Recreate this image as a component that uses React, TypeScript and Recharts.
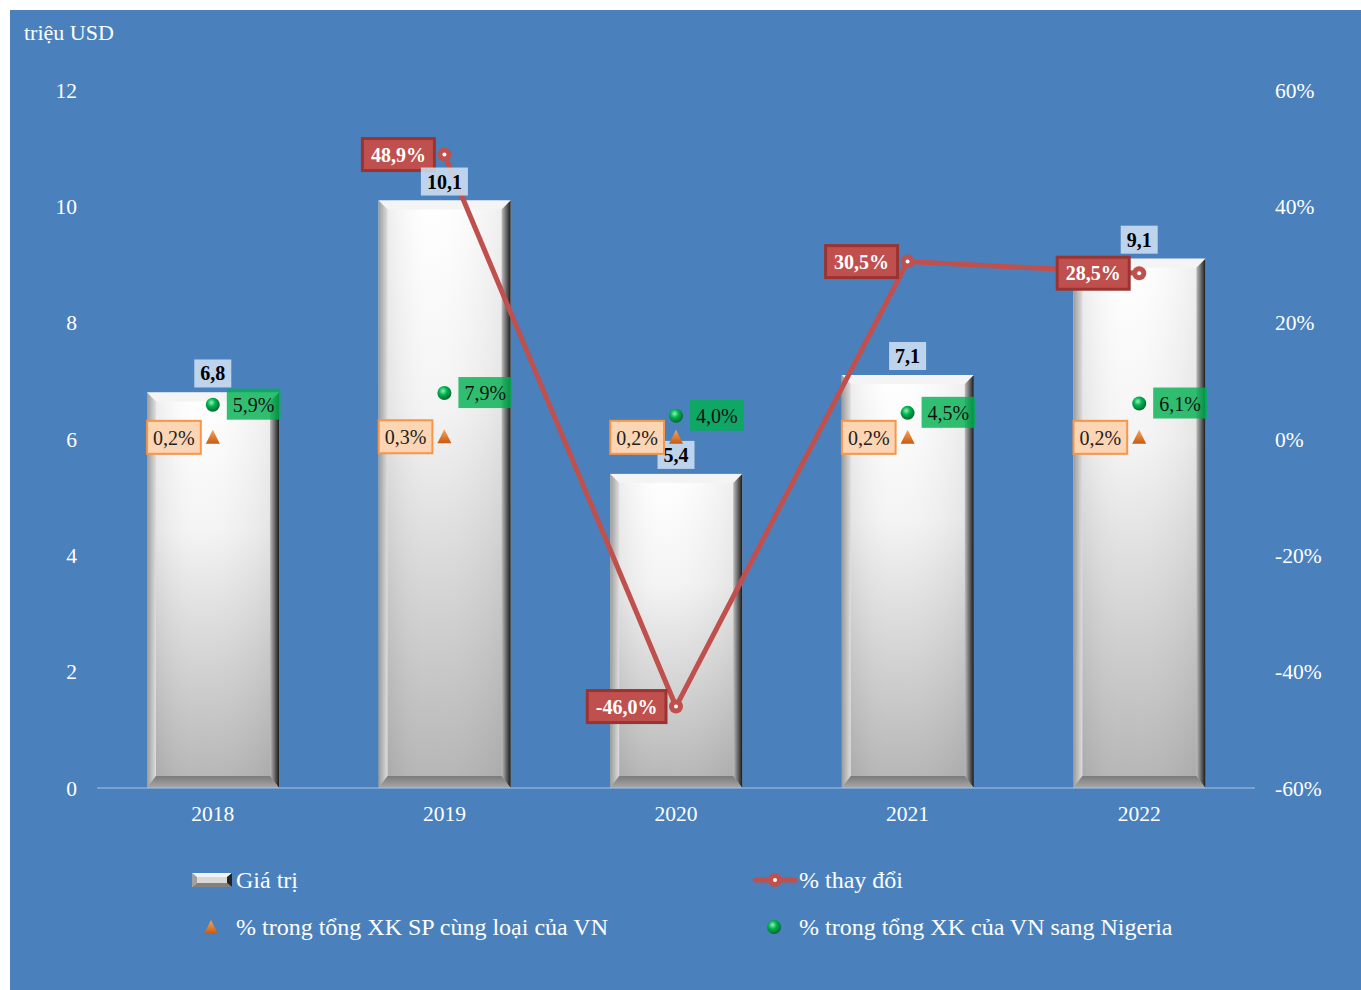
import React from "react";
import { ComposedChart, Bar, Line, Scatter, XAxis, YAxis } from "recharts";

const years = ["2018", "2019", "2020", "2021", "2022"];
const values = [6.8, 10.1, 5.4, 7.1, 9.1];
const change = [null, 48.9, -46.0, 30.5, 28.5];
const shareSameProduct = [0.2, 0.3, 0.2, 0.2, 0.2];
const shareNigeria = [5.9, 7.9, 4.0, 4.5, 6.1];

const leftTicks = [0, 2, 4, 6, 8, 10, 12];
const rightTicks = [-60, -40, -20, 0, 20, 40, 60];

const data = years.map((year, i) => ({
  year,
  value: values[i],
  change: change[i],
  same: shareSameProduct[i],
  nigeria: shareNigeria[i],
}));

const BG = "#4a81bd";
const FONT = "'Liberation Serif', 'Times New Roman', serif";
const RED = "#c0504d";

const fmt = (v: number) => v.toFixed(1).replace(".", ",");

// rough width of Times text at 20px
const textW = (s: string, bold = false) => {
  let w = 0;
  for (const c of s) {
    if (c === ",") w += 5;
    else if (c === "%") w += bold ? 20 : 16.7;
    else if (c === "-") w += 6.7;
    else w += 10;
  }
  return w;
};

const BevelBar = (props: any) => {
  const { x, y, width: w, height: h } = props;
  const bt = 9;
  const bb = 12;
  return (
    <g>
      <rect x={x} y={y} width={w} height={h} fill="url(#faceGrad)" />
      <rect x={x} y={y} width={w} height={h} fill="url(#faceGradH)" />
      <polygon points={`${x},${y} ${x + w},${y} ${x + w - bt},${y + bt} ${x + bt},${y + bt}`} fill="#f4f4f4" />
      <polygon points={`${x},${y} ${x + bt},${y + bt} ${x + bt},${y + h - bb} ${x},${y + h}`} fill="url(#leftGrad)" />
      <polygon points={`${x + w},${y} ${x + w},${y + h} ${x + w - bt},${y + h - bb} ${x + w - bt},${y + bt}`} fill="url(#rightGrad)" />
      <polygon points={`${x},${y + h} ${x + bt},${y + h - bb} ${x + w - bt},${y + h - bb} ${x + w},${y + h}`} fill="url(#bottomGrad)" />
    </g>
  );
};

// value label sitting on top of each bar, drawn above the line
const BarValueLabel = (props: any) => {
  const { cx, cy, payload } = props;
  const label = fmt(payload.value);
  const lw = textW(label, true) + 12;
  return (
    <g>
      <rect x={cx - lw / 2} y={cy - 33} width={lw} height={28} fill="#d2e2f4" fillOpacity={0.85} />
      <text x={cx} y={cy - 12} textAnchor="middle" fontFamily={FONT} fontSize={20} fontWeight="bold" fill="#000">
        {label}
      </text>
    </g>
  );
};

const ChangeDot = (props: any) => {
  const { cx, cy, payload, index } = props;
  if (cy == null || payload.change == null) return <g key={`cd-${index}`} />;
  const label = fmt(payload.change) + "%";
  const bw = textW(label, true) + 17;
  const right = cx - 10;
  return (
    <g key={`cd-${index}`}>
      <rect x={right - bw} y={cy - 16} width={bw} height={32} fill={RED} stroke="#9a3431" strokeWidth={3} />
      <text x={right - bw / 2} y={cy + 7} textAnchor="middle" fontFamily={FONT} fontSize={20} fontWeight="bold" fill="#fff">
        {label}
      </text>
      <circle cx={cx} cy={cy} r={7} fill={RED} />
      <circle cx={cx} cy={cy} r={2} fill="#fff" />
    </g>
  );
};

const TriangleMark = (props: any) => {
  const { cx, cy, payload } = props;
  const label = fmt(payload.same) + "%";
  const bw = textW(label) + 12;
  const right = cx - 12;
  return (
    <g>
      <rect x={right - bw} y={cy - 17} width={bw} height={33} fill="#fcd5b4" stroke="#f79646" strokeWidth={2} />
      <text x={right - bw / 2} y={cy + 7} textAnchor="middle" fontFamily={FONT} fontSize={20} fill="#222">
        {label}
      </text>
      <polygon points={`${cx},${cy - 8} ${cx - 7},${cy + 6} ${cx + 7},${cy + 6}`} fill="url(#triGrad)" />
    </g>
  );
};

const GreenMark = (props: any) => {
  const { cx, cy, payload } = props;
  const label = fmt(payload.nigeria) + "%";
  const bw = textW(label) + 12;
  const left = cx + 14;
  return (
    <g>
      <rect x={left} y={cy - 16} width={bw} height={31} fill="#00b050" fillOpacity={0.8} />
      <text x={left + bw / 2} y={cy + 7} textAnchor="middle" fontFamily={FONT} fontSize={20} fill="#111">
        {label}
      </text>
      <circle cx={cx} cy={cy} r={7} fill="url(#greenGrad)" />
    </g>
  );
};

const legendText: React.CSSProperties = {
  position: "absolute",
  color: "#fff",
  fontFamily: FONT,
  fontSize: 24,
  lineHeight: "24px",
  whiteSpace: "nowrap",
  transform: "translateY(-50%)",
};

export default function App() {
  return (
    <div style={{ paddingTop: 10, paddingLeft: 10 }}>
      <style>{`body{margin:0;overflow:hidden}`}</style>
      <div style={{ position: "relative", width: 1351, height: 980, background: BG }}>
        <div style={{ ...legendText, left: 14, top: 23, fontSize: 22 }}>triệu USD</div>
        <ComposedChart
          width={1351}
          height={980}
          data={data}
          margin={{ top: 80, right: 0, bottom: 162, left: 0 }}
        >
          <defs>
            <linearGradient id="faceGrad" x1="0" y1="0" x2="0" y2="1">
              <stop offset="0%" stopColor="#ffffff" />
              <stop offset="35%" stopColor="#f4f4f4" />
              <stop offset="100%" stopColor="#b4b4b4" />
            </linearGradient>
            <linearGradient id="faceGradH" x1="0" y1="0" x2="1" y2="0">
              <stop offset="0%" stopColor="#000" stopOpacity={0.1} />
              <stop offset="40%" stopColor="#fff" stopOpacity={0} />
              <stop offset="100%" stopColor="#000" stopOpacity={0.08} />
            </linearGradient>
            <linearGradient id="leftGrad" x1="0" y1="0" x2="1" y2="0">
              <stop offset="0%" stopColor="#9c9c9c" />
              <stop offset="100%" stopColor="#dedede" />
            </linearGradient>
            <linearGradient id="rightGrad" x1="0" y1="0" x2="1" y2="0">
              <stop offset="0%" stopColor="#bdbdbd" />
              <stop offset="100%" stopColor="#1a1a1a" />
            </linearGradient>
            <linearGradient id="bottomGrad" x1="0" y1="0" x2="0" y2="1">
              <stop offset="0%" stopColor="#7a7a7a" />
              <stop offset="100%" stopColor="#a8a8a8" />
            </linearGradient>
            <linearGradient id="triGrad" x1="0" y1="0" x2="0" y2="1">
              <stop offset="0%" stopColor="#f9a55a" />
              <stop offset="100%" stopColor="#c55a11" />
            </linearGradient>
            <radialGradient id="greenGrad" cx="0.4" cy="0.35" r="0.65">
              <stop offset="0%" stopColor="#8ff5b0" />
              <stop offset="45%" stopColor="#00b050" />
              <stop offset="100%" stopColor="#006b2e" />
            </radialGradient>
          </defs>
          <XAxis
            dataKey="year"
            axisLine={{ stroke: "#a9c3e3", strokeWidth: 1 }}
            tickLine={false}
            tickMargin={12}
            height={40}
            tick={{ fill: "#fff", fontFamily: FONT, fontSize: 21.5 }}
          />
          <YAxis
            yAxisId="left"
            domain={[0, 12]}
            ticks={leftTicks}
            axisLine={false}
            tickLine={false}
            tickSize={0}
            tickMargin={20}
            width={87}
            tick={{ fill: "#fff", fontFamily: FONT, fontSize: 21.5 }}
          />
          <YAxis
            yAxisId="right"
            orientation="right"
            domain={[-60, 60]}
            ticks={rightTicks}
            tickFormatter={(v: number) => `${v}%`}
            axisLine={false}
            tickLine={false}
            tickSize={0}
            tickMargin={20}
            width={106}
            tick={{ fill: "#fff", fontFamily: FONT, fontSize: 21.5 }}
          />
          <Bar yAxisId="left" dataKey="value" barSize={132} shape={BevelBar} isAnimationActive={false} />
          <Line
            yAxisId="right"
            dataKey="change"
            stroke={RED}
            strokeWidth={5}
            dot={ChangeDot}
            activeDot={false}
            isAnimationActive={false}
          />
          <Scatter yAxisId="left" dataKey="value" shape={BarValueLabel} isAnimationActive={false} />
          <Scatter yAxisId="right" dataKey="same" shape={TriangleMark} isAnimationActive={false} />
          <Scatter yAxisId="right" dataKey="nigeria" shape={GreenMark} isAnimationActive={false} />
        </ComposedChart>

        {/* legend */}
        <svg style={{ position: "absolute", left: 182, top: 863 }} width={40} height={14}>
          <rect x={0} y={0} width={40} height={14} fill="#d8d8d8" />
          <polygon points="0,0 40,0 35,4 5,4" fill="#f2f2f2" />
          <polygon points="0,14 5,10 35,10 40,14" fill="#808080" />
          <polygon points="40,0 40,14 35,10 35,4" fill="#222" />
          <polygon points="0,0 5,4 5,10 0,14" fill="#a0a0a0" />
        </svg>
        <div style={{ ...legendText, left: 226, top: 870 }}>Giá trị</div>
        <svg style={{ position: "absolute", left: 743, top: 862 }} width={44} height={16}>
          <line x1={0} y1={8} x2={44} y2={8} stroke={RED} strokeWidth={5} />
          <circle cx={22} cy={8} r={7} fill={RED} />
          <circle cx={22} cy={8} r={2} fill="#fff" />
        </svg>
        <div style={{ ...legendText, left: 789, top: 870 }}>% thay đổi</div>
        <svg style={{ position: "absolute", left: 193, top: 909 }} width={16} height={16}>
          <polygon points="8,1 1,15 15,15" fill="url(#triGrad)" />
        </svg>
        <div style={{ ...legendText, left: 226, top: 917 }}>% trong tổng XK SP cùng loại của VN</div>
        <svg style={{ position: "absolute", left: 756, top: 909 }} width={16} height={16}>
          <circle cx={8} cy={8} r={7} fill="url(#greenGrad)" />
        </svg>
        <div style={{ ...legendText, left: 789, top: 917 }}>% trong tổng XK của VN sang Nigeria</div>
      </div>
    </div>
  );
}
